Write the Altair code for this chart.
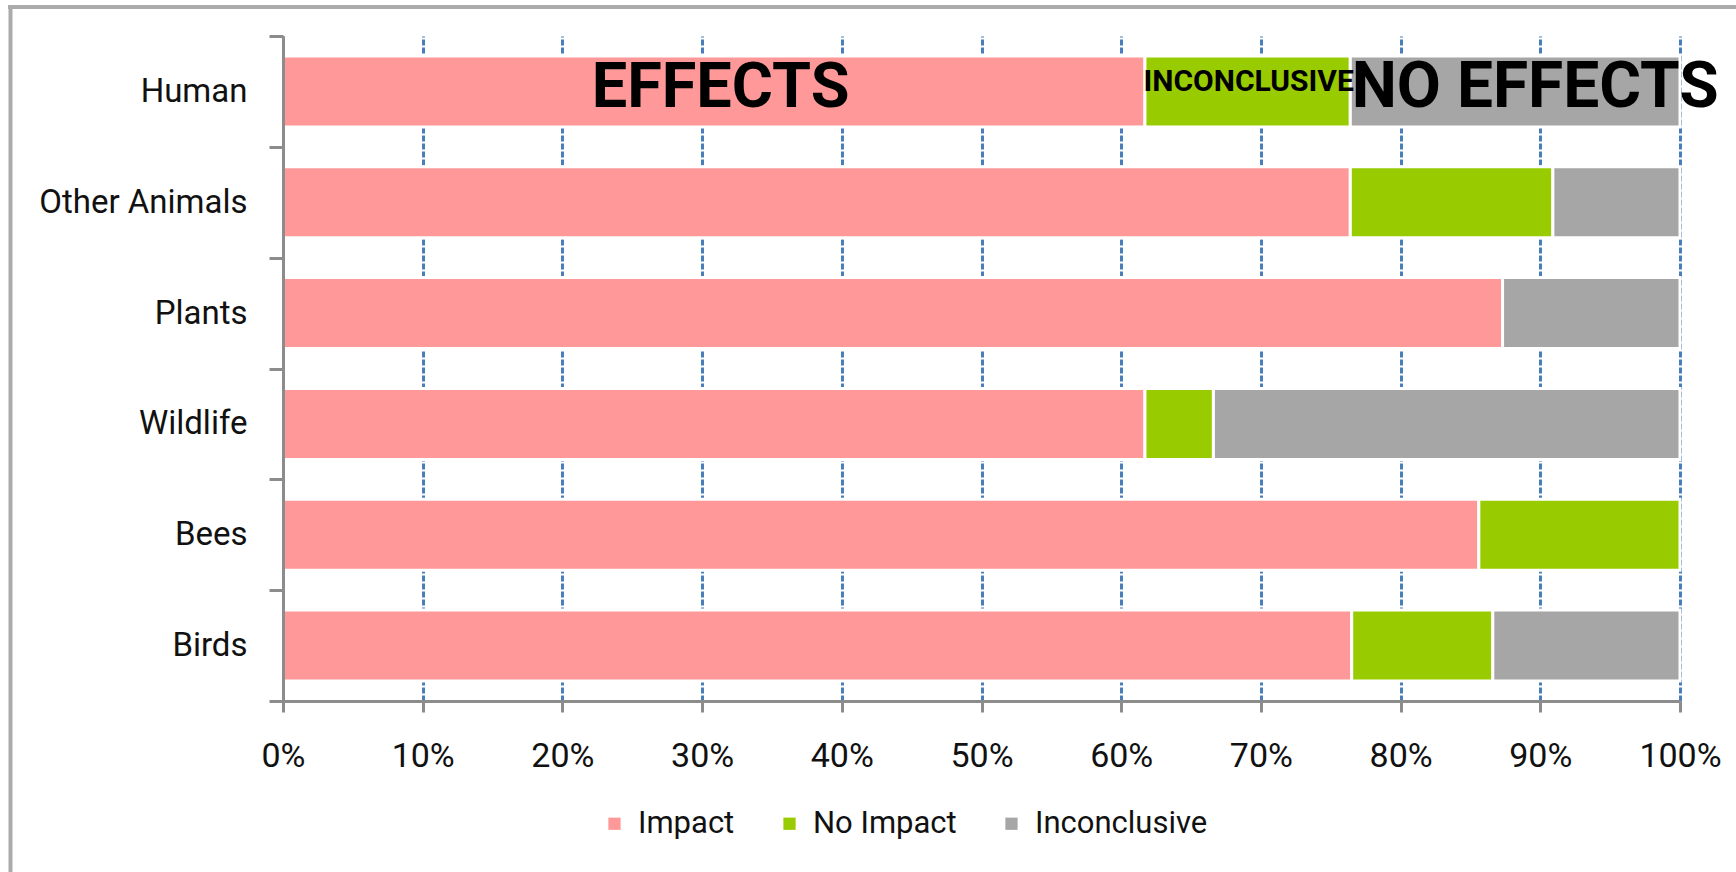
import altair as alt
import pandas as pd

categories = ["Human", "Other Animals", "Plants", "Wildlife", "Bees", "Birds"]
series = ["Impact", "No Impact", "Inconclusive"]
impact = [61.7, 76.4, 87.3, 61.7, 85.6, 76.5]
no_impact = [14.7, 14.5, 0.0, 4.9, 14.4, 10.1]
inconclusive = [23.6, 9.1, 12.7, 33.4, 0.0, 13.4]
x_ticks = [0, 10, 20, 30, 40, 50, 60, 70, 80, 90, 100]

annot_labels = ["EFFECTS", "INCONCLUSIVE", "NO EFFECTS"]
annot_category = ["Human", "Human", "Human"]
annot_x = [22.1, 61.6, 76.5]

colors = ["#FF9999", "#99CC00", "#A6A6A6"]
FONT = "Roboto"

rows = []
for i, c in enumerate(categories):
    for k, (s, vals) in enumerate(zip(series, [impact, no_impact, inconclusive])):
        if vals[i] > 0:
            rows.append({"category": c, "series": s, "value": vals[i], "order": k})
df = pd.DataFrame(rows)
ann = pd.DataFrame({"label": annot_labels, "category": annot_category, "x": annot_x})

W, H = 1397, 665
PL, PT = 283, 36

y_enc = alt.Y(
    "category:N",
    sort=categories,
    scale=alt.Scale(paddingInner=0, paddingOuter=0),
    axis=alt.Axis(
        title=None, tickBand="extent", tickSize=14, tickWidth=3, tickColor="#8c8c8c",
        domainColor="#8c8c8c", domainWidth=3, labelFontSize=33, labelPadding=22,
        labelColor="#111111", labelFont=FONT, labelLimit=0, zindex=1,
    ),
)

bars = alt.Chart(df).mark_bar(
    stroke="white", strokeWidth=3, height=alt.RelativeBandSize(0.64)
).encode(
    x=alt.X(
        "value:Q",
        stack="zero",
        scale=alt.Scale(domain=[0, 100], nice=False),
        axis=alt.Axis(
            title=None, values=x_ticks, labelExpr="datum.value + '%'",
            grid=True, gridColor="#4a7ebb", gridDash=[6, 2], gridWidth=3,
            domainColor="#8c8c8c", domainWidth=3, tickColor="#8c8c8c", tickWidth=3,
            tickSize=11, labelFontSize=34, labelPadding=27, labelColor="#111111",
            labelFont=FONT, labelFlush=False, labelLimit=0,
        ),
    ),
    y=y_enc,
    color=alt.Color(
        "series:N",
        scale=alt.Scale(domain=series, range=colors),
        legend=alt.Legend(
            title=None, orient="none", direction="horizontal", legendX=316, legendY=772,
            symbolType="square", symbolSize=150, symbolStrokeWidth=0, symbolOpacity=1,
            labelFontSize=31, labelOffset=8, columnPadding=39, padding=0,
            labelColor="#111111", labelFont=FONT, labelLimit=0,
        ),
    ),
    order=alt.Order("order:Q"),
)

def annot(label, size, dy):
    return alt.Chart(ann).transform_filter(alt.datum.label == label).mark_text(
        align="left", baseline="middle", fontSize=size, fontWeight="bold",
        font=FONT, color="black", dy=dy,
    ).encode(
        x=alt.X("x:Q"),
        y=alt.Y("category:N", sort=categories),
        text="label:N",
    )

frame_df = pd.DataFrame({"k": [0]})
top_line = alt.Chart(frame_df).mark_rule(color="#ababab", strokeWidth=4).encode(
    x=alt.value(8 - PL), x2=alt.value(1736 - PL), y=alt.value(7 - PT)
)
left_line = alt.Chart(frame_df).mark_rule(color="#ababab", strokeWidth=4).encode(
    x=alt.value(10.5 - PL), y=alt.value(5 - PT), y2=alt.value(872 - PT)
)

chart = alt.layer(
    top_line, left_line, bars,
    annot("EFFECTS", 63, -3), annot("INCONCLUSIVE", 30, -9), annot("NO EFFECTS", 64, -3),
).properties(
    width=W, height=H,
    autosize=alt.AutoSizeParams(type="none"),
    padding={"left": PL, "top": PT, "right": 1736 - PL - W, "bottom": 872 - PT - H},
).configure(font=FONT).configure_view(stroke=None)

chart.save("out.html", embed_options={"renderer": "svg", "actions": False})
